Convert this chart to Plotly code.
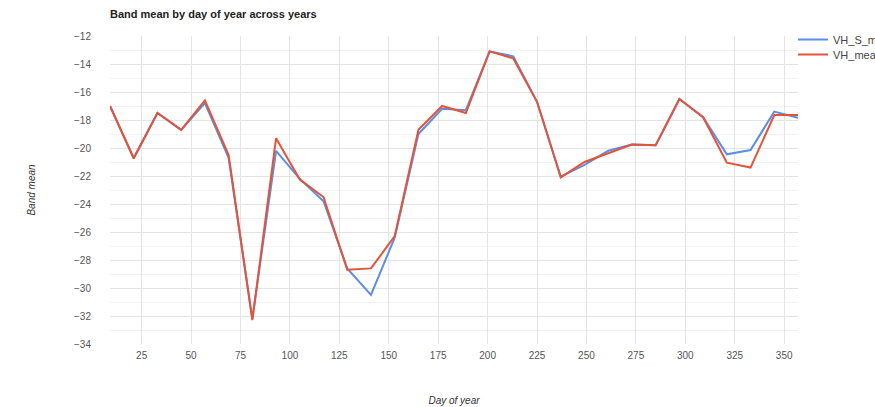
import plotly.graph_objects as go

days = [9, 21, 33, 45, 57, 69, 81, 93, 105, 117, 129, 141, 153, 165, 177,
        189, 201, 213, 225, 237, 249, 261, 273, 285, 297, 309, 321, 333, 345, 357]
vh_s_mean = [-17.0, -20.7, -17.5, -18.7, -16.8, -20.7, -32.2, -20.2, -22.2, -23.8,
             -28.6, -30.5, -26.4, -19.0, -17.2, -17.3, -13.1, -13.45, -16.7, -22.05,
             -21.2, -20.2, -19.75, -19.8, -16.5, -17.8, -20.45, -20.15, -17.4, -17.85]
vh_mean = [-17.0, -20.75, -17.5, -18.7, -16.6, -20.5, -32.3, -19.3, -22.25, -23.5,
           -28.7, -28.6, -26.3, -18.7, -17.0, -17.5, -13.1, -13.6, -16.7, -22.1,
           -21.0, -20.35, -19.75, -19.8, -16.5, -17.8, -21.05, -21.4, -17.65, -17.65]
x_ticks = [25, 50, 75, 100, 125, 150, 175, 200, 225, 250, 275, 300, 325, 350]
y_ticks = [-34, -32, -30, -28, -26, -24, -22, -20, -18, -16, -14, -12]

FONT = "Liberation Sans, Arial, sans-serif"

fig = go.Figure()
fig.add_trace(go.Scatter(x=days, y=vh_s_mean, mode="lines", name="VH_S_mean",
                         line=dict(color="#5b8ee6", width=2), legend="legend"))
fig.add_trace(go.Scatter(x=days, y=vh_mean, mode="lines", name="VH_mean",
                         line=dict(color="#e4533a", width=2), legend="legend2"))

leg_common = dict(x=0.9927, xanchor="left", yanchor="top",
                  xref="paper", yref="paper",
                  font=dict(family=FONT, size=11, color="#444"),
                  bgcolor="rgba(0,0,0,0)", itemwidth=30)

fig.update_layout(
    width=875, height=407,
    margin=dict(l=110, r=77, t=36, b=63, autoexpand=False),
    paper_bgcolor="white", plot_bgcolor="white",
    font=dict(family=FONT, size=10, color="#444"),
    title=dict(text="<b>Band mean by day of year across years</b>",
               x=110 / 875, xanchor="left", y=1 - 14 / 407, yanchor="middle",
               font=dict(family=FONT, size=11, color="#222")),
    showlegend=True,
    legend=dict(y=1.0357, **leg_common),
    legend2=dict(y=0.987, **leg_common),
    xaxis=dict(range=[9, 357], tickvals=x_ticks, showgrid=True,
               gridcolor="#e4e4e4", gridwidth=1, zeroline=False, showline=False,
               ticks="outside", ticklen=2, tickcolor="rgba(0,0,0,0)",
               tickfont=dict(size=10, color="#555"),
               title=dict(text="<i>Day of year</i>", standoff=36,
                          font=dict(size=10, color="#333"))),
    yaxis=dict(range=[-34, -12], tickvals=y_ticks, showgrid=True,
               gridcolor="#e4e4e4", gridwidth=1, zeroline=False, showline=False,
               ticks="outside", ticklen=16, tickcolor="rgba(0,0,0,0)",
               tickfont=dict(size=10, color="#555"),
               minor=dict(dtick=1, showgrid=True, gridcolor="#f2f2f2", gridwidth=1),
               title=dict(text="<i>Band mean</i>", standoff=36,
                          font=dict(size=10, color="#333"))),
)

fig.write_html("out.html",
               config={"displayModeBar": False},
               post_script="document.body.style.margin='0';"
                           "document.body.style.overflow='hidden';")
